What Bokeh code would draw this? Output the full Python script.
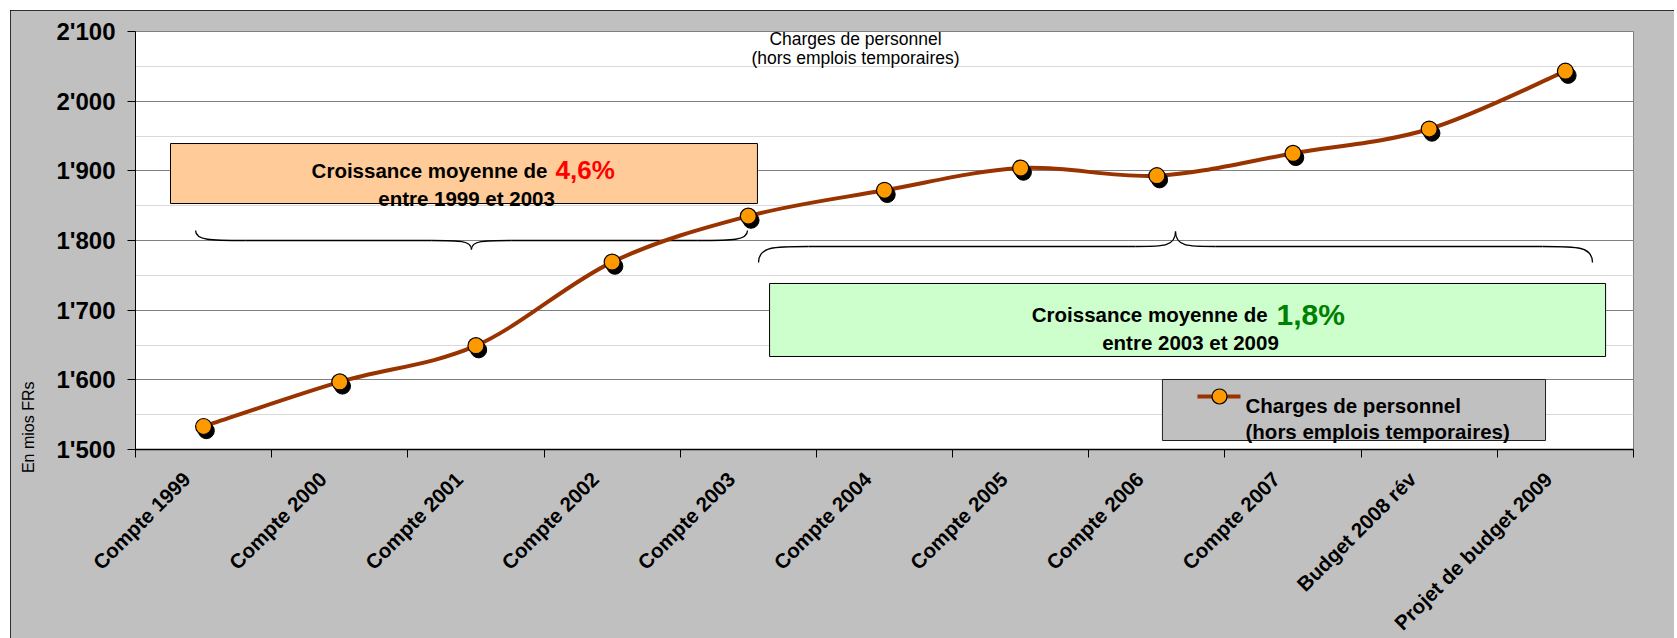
import numpy as np
from bokeh.plotting import figure
from bokeh.models import FixedTicker, Spacer, ColumnDataSource, Range1d
from bokeh.layouts import row, column
from bokeh.transform import dodge
from bokeh.core.properties import value
from bokeh.embed import file_html
from bokeh.resources import INLINE

FONT = "Liberation Sans"

# ---------------- data ----------------
categories = ["Compte 1999", "Compte 2000", "Compte 2001", "Compte 2002", "Compte 2003",
              "Compte 2004", "Compte 2005", "Compte 2006", "Compte 2007",
              "Budget 2008 rév", "Projet de budget 2009"]
charges = [1533, 1597, 1649, 1769, 1835, 1872, 1904, 1893, 1925, 1960, 2043]
y_ticks = [1500, 1600, 1700, 1800, 1900, 2000, 2100]
y_tick_labels = ["1'500", "1'600", "1'700", "1'800", "1'900", "2'000", "2'100"]
series_label = ["Charges de personnel", "(hors emplois temporaires)"]
title_lines = ["Charges de personnel", "(hors emplois temporaires)"]
y_axis_title = "En mios FRs"
growth_1 = ["Croissance moyenne de", "4,6%", "entre 1999 et 2003"]
growth_2 = ["Croissance moyenne de", "1,8%", "entre 2003 et 2009"]

LINE_COLOR = "#993300"
MARKER_COLOR = "#FF9900"

n = len(categories)
x_pos = np.arange(n) + 0.5
src = ColumnDataSource(dict(x=x_pos, y=charges, cat=categories))

p = figure(frame_width=1498, frame_height=418,
           x_range=Range1d(0, n), y_range=Range1d(y_ticks[0], y_ticks[-1]),
           output_backend="svg", toolbar_location=None,
           min_border_left=125, min_border_right=41, min_border_top=21, min_border_bottom=189,
           background_fill_color="white", border_fill_color="#C0C0C0",
           outline_line_color="#808080")
p.styles = {"outline": "2px solid black", "outline-offset": "-2px"}

# grid
p.xgrid.visible = False
p.ygrid.grid_line_color = "#808080"
p.ygrid.minor_grid_line_color = "#D9D9D9"

# y axis
yax = p.yaxis[0]
yax.ticker = FixedTicker(ticks=y_ticks,
                         minor_ticks=[(a + b) / 2 for a, b in zip(y_ticks[:-1], y_ticks[1:])])
yax.major_label_overrides = {t: l for t, l in zip(y_ticks, y_tick_labels)}
yax.major_label_text_font = FONT
yax.major_label_text_font_style = "bold"
yax.major_label_text_font_size = "24px"
yax.major_label_text_color = "black"
yax.major_tick_in = 0
yax.major_tick_out = 8
yax.major_tick_line_color = "black"
yax.minor_tick_line_color = None
yax.axis_line_color = "black"
yax.major_label_standoff = 12
yax.axis_label = "\u00a0" * 10 + y_axis_title
yax.axis_label_text_font = FONT
yax.axis_label_text_font_style = "normal"
yax.axis_label_text_font_size = "16px"
yax.axis_label_text_color = "black"
yax.axis_label_standoff = 16
yax.axis_label_align = "start"

# x axis (ticks at category boundaries, labels at centres)
label_pos = x_pos - 0.125
xax = p.xaxis[0]
xax.ticker = FixedTicker(ticks=list(label_pos), minor_ticks=list(range(n + 1)))
xax.major_label_overrides = {float(x): c for x, c in zip(label_pos, categories)}
xax.major_tick_line_color = None
xax.major_tick_in = 0
xax.major_tick_out = 0
xax.minor_tick_in = 0
xax.minor_tick_out = 8
xax.minor_tick_line_color = "black"
xax.axis_line_color = "black"
xax.axis_line_width = 1.5
xax.major_label_orientation = np.pi / 4
xax.major_label_text_font = FONT
xax.major_label_text_font_style = "bold"
xax.major_label_text_font_size = "20.5px"
xax.major_label_text_color = "black"
xax.major_label_standoff = 18

# ---------------- annotation boxes ----------------
p.quad(left=[0.257], right=[4.567], top=[1939.2], bottom=[1853.1],
       fill_color="#FFCC99", line_color="black", line_width=1)
p.quad(left=[4.656], right=[10.795], top=[1738.3], bottom=[1633.5],
       fill_color="#CCFFCC", line_color="black", line_width=1)

def txt(x, y, s, size, align, color="black", bold=True):
    p.text(x=[x], y=[y], text=[s], text_font=value(FONT),
           text_font_style="bold" if bold else "normal", text_font_size=size,
           text_align=align, text_baseline="alphabetic", text_color=color)

txt(3.025, 1900.5, growth_1[0], "20.5px", "right")
txt(3.084, 1900.5, growth_1[1], "26px", "left", color="#FF0000")
txt(2.431, 1860.3, growth_1[2], "20.5px", "center")

txt(8.313, 1693.8, growth_2[0], "20.5px", "right")
txt(8.379, 1693.8, growth_2[1], "30px", "left", color="#008000")
txt(7.747, 1653.6, growth_2[2], "20.5px", "center")

# title inside plot area
txt(5.287, 2089.5, title_lines[0], "17.5px", "center", bold=False)
txt(5.287, 2061.5, title_lines[1], "17.5px", "center", bold=False)

# ---------------- braces ----------------
def brace(x0, x1, xm, yend, yflat, ytip, le=0.367, lt=0.294):
    bx0, by0, bx1, by1, c0x, c0y, c1x, c1y = [], [], [], [], [], [], [], []
    bx0 += [x0]; by0 += [yend]; bx1 += [x0 + le]; by1 += [yflat]
    c0x += [x0]; c0y += [yflat]; c1x += [x0 + 0.3 * le]; c1y += [yflat]
    bx0 += [xm - lt]; by0 += [yflat]; bx1 += [xm]; by1 += [ytip]
    c0x += [xm - 0.3 * lt]; c0y += [yflat]; c1x += [xm]; c1y += [yflat]
    bx0 += [xm]; by0 += [ytip]; bx1 += [xm + lt]; by1 += [yflat]
    c0x += [xm]; c0y += [yflat]; c1x += [xm + 0.3 * lt]; c1y += [yflat]
    bx0 += [x1 - le]; by0 += [yflat]; bx1 += [x1]; by1 += [yend]
    c0x += [x1 - 0.3 * le]; c0y += [yflat]; c1x += [x1]; c1y += [yflat]
    p.bezier(x0=bx0, y0=by0, x1=bx1, y1=by1, cx0=c0x, cy0=c0y, cx1=c1x, cy1=c1y,
             line_color="black", line_width=1.3)
    p.segment(x0=[x0 + le, xm + lt], y0=[yflat, yflat], x1=[xm - lt, x1 - le], y1=[yflat, yflat],
              line_color="black", line_width=1.3)

brace(0.441, 4.494, 2.467, 1814.3, 1800.0, 1787.1)
brace(4.575, 10.699, 7.637, 1768.4, 1791.4, 1812.9)

# ---------------- smoothed series line ----------------
P = np.column_stack([x_pos, np.asarray(charges, dtype=float)])
Pext = np.vstack([P[0], P, P[-1]])
c0 = P[:-1] + (Pext[2:n + 1] - Pext[0:n - 1]) / 6.0
c1 = P[1:] - (Pext[3:n + 2] - Pext[1:n]) / 6.0
p.bezier(x0=P[:-1, 0], y0=P[:-1, 1], x1=P[1:, 0], y1=P[1:, 1],
         cx0=c0[:, 0], cy0=c0[:, 1], cx1=c1[:, 0], cy1=c1[:, 1],
         line_color=LINE_COLOR, line_width=4, line_cap="round")

# markers with shadow
p.scatter(x=dodge("x", 0.02), y=dodge("y", -6.0), source=src, size=16,
          fill_color="black", line_color="black")
p.scatter("x", "y", source=src, size=16, fill_color=MARKER_COLOR,
          line_color="black", line_width=1.2)

# ---------------- legend (drawn) ----------------
p.quad(left=[7.541], right=[10.354], top=[1600.5], bottom=[1512.9],
       fill_color="#C0C0C0", line_color="#202020", line_width=1)
p.line(x=[7.798, 8.114], y=[1576.1, 1576.1], line_color=LINE_COLOR, line_width=4)
p.scatter(x=[7.960], y=[1576.1], size=15, fill_color=MARKER_COLOR, line_color="black", line_width=1.2)
txt(8.151, 1563.2, series_label[0], "20.5px", "left")
txt(8.151, 1525.8, series_label[1], "20.5px", "left")

lay = row(Spacer(width=10, height=638), column(Spacer(width=1664, height=10), p))
open("out.html", "w").write(file_html(lay, INLINE))
